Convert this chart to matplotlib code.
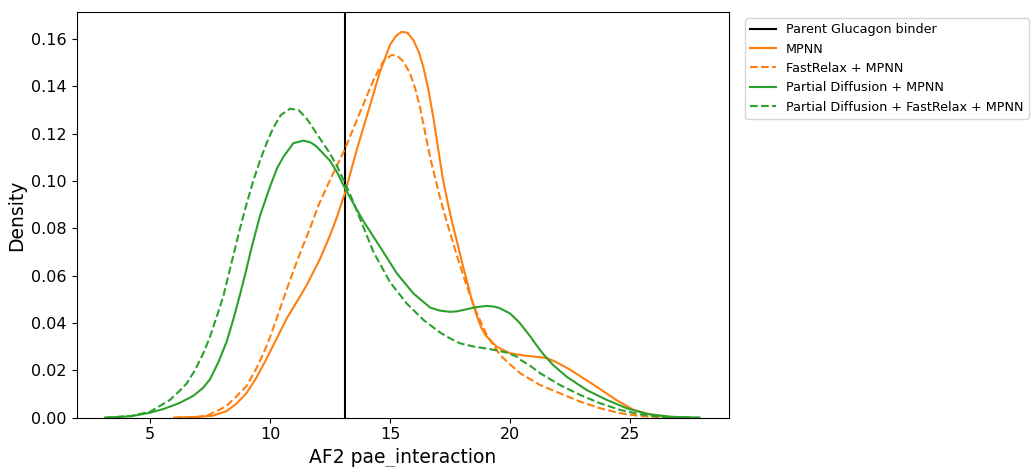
import matplotlib
matplotlib.use("Agg")
import matplotlib.pyplot as plt

parent_value = 13.13

mpnn_x = [6.0, 7.0, 7.64, 8.19, 8.61, 9.03, 9.44, 9.86, 10.28, 10.7, 11.12, 11.53, 12.08, 12.5, 12.78,
          13.125, 13.61, 14.17, 14.58, 15.0, 15.25, 15.49, 15.73, 15.97, 16.2, 16.39, 16.6, 16.8, 17.0,
          17.2, 17.4, 17.6, 17.8, 18.0, 18.2, 18.4, 18.6, 18.8, 19.0, 19.44, 20.0, 20.7, 21.39, 21.65,
          21.9, 22.5, 23.0, 23.47, 24.0, 24.44, 25.14, 25.97, 26.8, 27.0]
mpnn_y = [0.0, 0.0003, 0.0009, 0.0028, 0.006, 0.0105, 0.017, 0.025, 0.0335, 0.042, 0.049, 0.056, 0.067,
          0.077, 0.0845, 0.095, 0.1130, 0.1320, 0.1460, 0.1575, 0.1612, 0.163, 0.1625, 0.1595, 0.1545,
          0.148, 0.1385, 0.127, 0.114, 0.101, 0.091, 0.082, 0.074, 0.0655, 0.058, 0.050, 0.0435, 0.038,
          0.0345, 0.030, 0.0272, 0.0261, 0.0254, 0.0247, 0.0236, 0.0203, 0.0170, 0.0140, 0.0104, 0.0074,
          0.0033, 0.0011, 0.0002, 0.0]

fr_mpnn_x = [6.0, 7.0, 7.36, 7.92, 8.19, 8.6, 9.03, 9.44, 9.72, 10.0, 10.28, 10.55, 10.83, 11.12, 11.39,
             11.67, 12.01, 12.5, 13.125, 13.75, 14.31, 14.72, 15.07, 15.3, 15.55, 15.83, 16.05, 16.25,
             16.67, 17.08, 17.4, 17.8, 18.2, 18.6, 19.0, 19.58, 20.0, 20.42, 21.25, 22.08, 22.92, 23.75,
             24.58, 25.42, 26.25, 26.7]
fr_mpnn_y = [0.0, 0.0004, 0.0008, 0.0035, 0.005, 0.009, 0.0135, 0.021, 0.027, 0.034, 0.042, 0.050, 0.058,
             0.066, 0.073, 0.080, 0.0895, 0.1004, 0.1135, 0.129, 0.1426, 0.1505, 0.1532, 0.1528, 0.1505,
             0.1455, 0.139, 0.131, 0.110, 0.093, 0.0815, 0.068, 0.0555, 0.0445, 0.0355, 0.0265, 0.0225,
             0.0188, 0.0138, 0.0103, 0.0068, 0.004, 0.0019, 0.0007, 0.0002, 0.0]

pd_mpnn_x = [3.125, 4.2, 5.0, 5.6, 6.25, 6.8, 7.2, 7.5, 7.85, 8.19, 8.47, 8.75, 9.0, 9.24, 9.58, 10.0,
             10.3, 10.56, 10.97, 11.39, 11.7, 11.94, 12.5, 12.8, 13.125, 13.61, 13.89, 14.58, 15.28,
             15.97, 16.67, 17.08, 17.5, 17.78, 18.2, 18.54, 19.03, 19.35, 19.58, 20.0, 20.28, 20.42,
             20.83, 21.11, 21.39, 21.8, 22.36, 23.19, 24.03, 24.86, 25.69, 26.67, 27.9]
pd_mpnn_y = [0.0, 0.0006, 0.0021, 0.0038, 0.0063, 0.0092, 0.0125, 0.0162, 0.0235, 0.032, 0.0415, 0.052,
             0.062, 0.0722, 0.0852, 0.0976, 0.1055, 0.1102, 0.1159, 0.117, 0.1162, 0.1145, 0.1085, 0.1035,
             0.0968, 0.088, 0.083, 0.0722, 0.061, 0.0525, 0.0465, 0.0452, 0.0447, 0.0449, 0.0458, 0.0466,
             0.0472, 0.0469, 0.0462, 0.044, 0.0413, 0.0398, 0.0345, 0.0305, 0.0268, 0.0222, 0.0173,
             0.0117, 0.0075, 0.004, 0.0016, 0.0004, 0.0]

pd_fr_mpnn_x = [3.125, 4.2, 5.0, 5.83, 6.25, 6.53, 6.875, 7.22, 7.5, 7.92, 8.06, 8.47, 8.75, 9.03, 9.3,
                9.58, 9.86, 10.14, 10.45, 10.83, 11.2, 11.53, 11.67, 11.94, 12.22, 12.5, 12.78, 13.125,
                13.33, 13.61, 13.89, 14.31, 15.0, 15.69, 16.39, 17.08, 17.5, 17.92, 18.5, 19.03, 19.5,
                19.86, 20.28, 20.42, 20.83, 21.25, 22.08, 22.92, 23.75, 24.58, 25.42, 26.25, 27.9]
pd_fr_mpnn_y = [0.0, 0.0007, 0.0025, 0.0075, 0.0115, 0.0145, 0.0201, 0.0272, 0.0342, 0.047, 0.0515, 0.0685,
                0.080, 0.0905, 0.100, 0.1085, 0.116, 0.1225, 0.1278, 0.1305, 0.1298, 0.1262, 0.1242, 0.120,
                0.1158, 0.1115, 0.1065, 0.099, 0.0945, 0.0875, 0.0805, 0.070, 0.0572, 0.0483, 0.0413, 0.036,
                0.0335, 0.0314, 0.030, 0.0292, 0.0283, 0.0275, 0.0258, 0.0245, 0.022, 0.0188, 0.0138,
                0.0096, 0.0061, 0.0033, 0.0014, 0.0004, 0.0]

labels = ["Parent Glucagon binder", "MPNN", "FastRelax + MPNN",
          "Partial Diffusion + MPNN", "Partial Diffusion + FastRelax + MPNN"]
x_ticks = [5, 10, 15, 20, 25]
y_ticks = [0.00, 0.02, 0.04, 0.06, 0.08, 0.10, 0.12, 0.14, 0.16]

orange = "#ff7f0e"
green = "#2ca02c"

fig = plt.figure(figsize=(10.31, 4.67), dpi=100)
ax = fig.add_axes([0.0744, 0.1056, 0.6327, 0.8681])

ax.axvline(parent_value, color="black", lw=1.5, label=labels[0])
ax.plot(mpnn_x, mpnn_y, color=orange, lw=1.5, ls="-", label=labels[1])
ax.plot(fr_mpnn_x, fr_mpnn_y, color=orange, lw=1.5, ls="--", label=labels[2])
ax.plot(pd_mpnn_x, pd_mpnn_y, color=green, lw=1.5, ls="-", label=labels[3])
ax.plot(pd_fr_mpnn_x, pd_fr_mpnn_y, color=green, lw=1.5, ls="--", label=labels[4])

ax.set_xlim(1.945, 29.125)
ax.set_ylim(0, 0.1712)
ax.set_xticks(x_ticks)
ax.set_yticks(y_ticks)
ax.set_yticklabels([f"{v:.2f}" for v in y_ticks])
ax.tick_params(labelsize=11.5)
ax.set_xlabel("AF2 pae_interaction", fontsize=13.5)
ax.set_ylabel("Density", fontsize=13.5)

ax.legend(loc="upper left", bbox_to_anchor=(0.7165, 0.975), bbox_transform=fig.transFigure,
          fontsize=9.2, frameon=True)

fig.savefig("out.png", dpi=100)
